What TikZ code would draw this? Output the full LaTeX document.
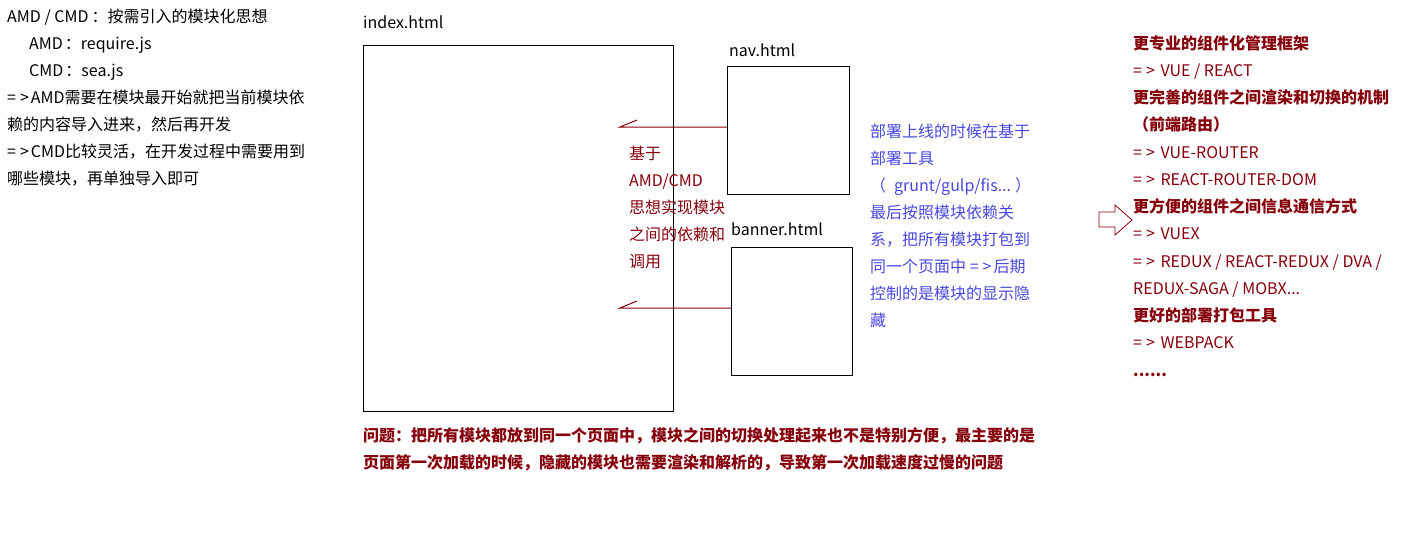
\documentclass[tikz,border=0pt]{standalone}
\usepackage{fontspec}
\setmainfont{Noto Sans CJK SC}
\definecolor{dred}{RGB}{134,0,12}
\definecolor{dblue}{RGB}{72,72,225}
\newcommand\myarr{=\kern4pt>\kern2pt}
\begin{document}
\begin{tikzpicture}[x=1pt,y=-1pt,
  txt/.style={inner sep=0pt,anchor=base west,align=left,font=\fontsize{16}{27}\selectfont},
  page/.style={draw=black,line width=1pt,inner sep=0pt,anchor=north west},
  redline/.style={draw=dred,line width=1pt}]
\useasboundingbox (0,0) rectangle (1424,536);
% left notes (anchor = baseline of last line)
\node[txt] (left) at (7,184) {AMD / CMD\kern3pt：按需引入的模块化思想\\
\hspace*{22pt}AMD\kern2pt：require.js\\
\hspace*{22pt}CMD\kern2pt：sea.js\\
\myarr AMD需要在模块最开始就把当前模块依\\
赖的内容导入进来，然后再开发\\
\myarr CMD比较灵活，在开发过程中需要用到\\
哪些模块，再单独导入即可};
% pages
\node[page,minimum width=310,minimum height=366] (index) at (363,45) {};
\node[txt] (indexl) at (363,28) {index.html};
\node[page,minimum width=122,minimum height=128] (nav) at (727,66) {};
\node[txt] (navl) at (729,56) {nav.html};
\node[page,minimum width=121,minimum height=128] (banner) at (731,247) {};
\node[txt] (bannerl) at (731,235) {banner.html};
% arrows
\coordinate (a1) at (620,127);
\coordinate (a2) at (620,308);
\draw[redline] (nav.west|-a1) -- (a1) -- ++(17,-7);
\draw[redline] (banner.west|-a2) -- (a2) -- ++(17,-7);
\node[txt,text=dred] (mid) at (629,267) {基于\\AMD/CMD\\思想实现模块\\之间的依赖和\\调用};
% blue
\node[txt,text=dblue] (blue) at (870,326) {部署上线的时候在基于\\部署工具\\（\kern8pt grunt/gulp/fis...\kern4pt）\\最后按照模块依赖关\\系，把所有模块打包到\\同一个页面中 \myarr 后期\\控制的是模块的显示隐\\藏};
% bottom
\node[txt,text=dred,font=\fontsize{16}{27}\selectfont\bfseries] (bottom) at (363,468) {问题：把所有模块都放到同一个页面中，模块之间的切换处理起来也不是特别方便，最主要的是\\页面第一次加载的时候，隐藏的模块也需要渲染和解析的，导致第一次加载速度过慢的问题};
% right
\node[txt,text=dred,font=\fontsize{16}{27.25}\selectfont] (right) at (1133,376) {\textbf{更专业的组件化管理框架}\\
\myarr{} VUE / REACT\\
\textbf{更完善的组件之间渲染和切换的机制}\\
\textbf{（前端路由）}\\
\myarr{} VUE-ROUTER\\
\myarr{} REACT-ROUTER-DOM\\
\textbf{更方便的组件之间信息通信方式}\\
\myarr{} VUEX\\
\myarr{} REDUX / REACT-REDUX / DVA /\\
REDUX-SAGA / MOBX...\\
\textbf{更好的部署打包工具}\\
\myarr{} WEBPACK\\
\textbf{......}};
\draw[dred,line width=0.8pt] (1099,212) -- (1115,212) -- (1115,205) -- (1132,220) -- (1115,235) -- (1115,227) -- (1099,227) -- cycle;
\end{tikzpicture}
\end{document}
